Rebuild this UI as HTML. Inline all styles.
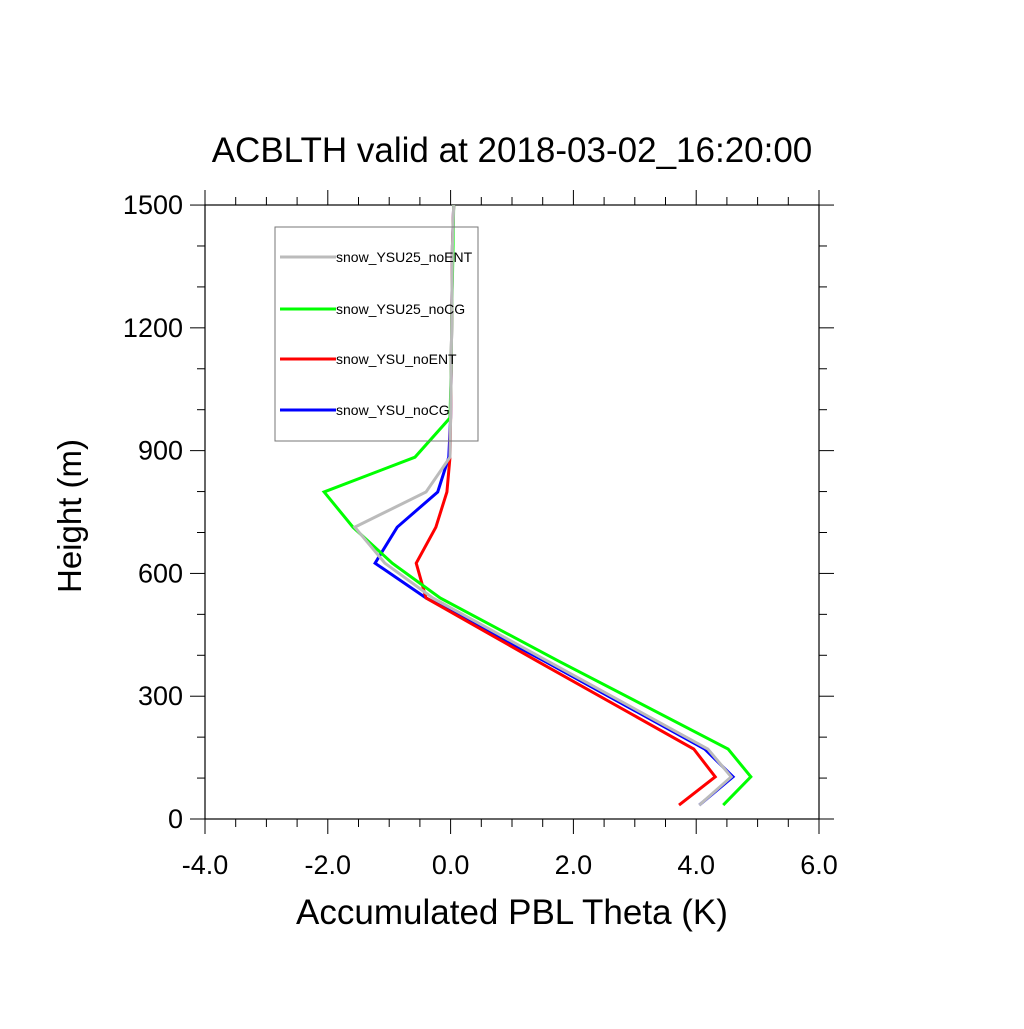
<!DOCTYPE html>
<html><head><meta charset="utf-8"><style>
body{margin:0;background:#fff}
svg{font-family:"Liberation Sans",sans-serif}
</style></head><body>
<svg id="c" width="1024" height="1024">
<text x="512" y="162" text-anchor="middle" font-size="35">ACBLTH valid at 2018-03-02_16:20:00</text>
<text x="512" y="924" text-anchor="middle" font-size="35">Accumulated PBL Theta (K)</text>
<text transform="translate(81,516) rotate(-90)" text-anchor="middle" font-size="33">Height (m)</text>
<g id="ax"></g><g id="ser"></g><g id="leg"></g>
</svg>
<script>
const heights=[34,103,171,385,540,625,713,799,884,980,1100,1250,1400,1500];
const noEnt25=[4.05,4.57,4.19,1.59,-0.29,-1.07,-1.56,-0.40,-0.01,0.0,0.01,0.02,0.03,0.05];
const noCG25=[4.44,4.89,4.52,1.77,-0.17,-0.95,-1.59,-2.06,-0.58,-0.01,0.01,0.02,0.04,0.05];
const noEnt=[3.72,4.31,3.96,1.42,-0.40,-0.56,-0.24,-0.06,-0.01,0.0,0.01,0.02,0.03,0.05];
const noCG=[4.05,4.60,4.14,1.54,-0.40,-1.23,-0.87,-0.21,-0.03,0.0,0.01,0.02,0.03,0.05];
const seriesNames=["snow_YSU25_noENT","snow_YSU25_noCG","snow_YSU_noENT","snow_YSU_noCG"];
const seriesColors=["#bbbbbb","#00ff00","#ff0000","#0000ff"];
const xTicks=["-4.0","-2.0","0.0","2.0","4.0","6.0"];
const yTicks=["0","300","600","900","1200","1500"];
const NS="http://www.w3.org/2000/svg";
const X=v=>205+(v+4)*61.4, Y=v=>819-v*0.4093;
function mk(t,a,p){const e=document.createElementNS(NS,t);for(const k in a)e.setAttribute(k,a[k]);p.appendChild(e);return e;}
const ax=document.getElementById('ax');
const fr=mk('rect',{x:205,y:205,width:614,height:614,fill:'none',stroke:'#000','stroke-width':1.2},ax);


for(let v=-4;v<=6.001;v+=0.5){const x=X(v),maj=Math.abs(v-Math.round(v/2)*2)<1e-6;const L=maj?15:8;
mk('line',{x1:x,x2:x,y1:819,y2:819+L,stroke:'#000'},ax);mk('line',{x1:x,x2:x,y1:205,y2:205-L,stroke:'#000'},ax);}
for(let v=0;v<=1500;v+=100){const y=Y(v),maj=v%300===0;const L=maj?15:8;
mk('line',{x1:205,x2:205-L,y1:y,y2:y,stroke:'#000'},ax);mk('line',{x1:819,x2:819+L,y1:y,y2:y,stroke:'#000'},ax);}
xTicks.forEach(t=>{const e=mk('text',{x:X(parseFloat(t)),y:874,'text-anchor':'middle','font-size':27},ax);e.textContent=t;

});
yTicks.forEach(t=>{const e=mk('text',{x:183,y:Y(+t)+9,'text-anchor':'end','font-size':27},ax);e.textContent=t;

});
const ser=document.getElementById('ser');
const all=[noEnt25,noCG25,noEnt,noCG];
[3,2,1,0].forEach(i=>{const d=all[i];const pl=mk('polyline',{points:d.map((v,j)=>X(v)+','+Y(heights[j])).join(' '),fill:'none',stroke:seriesColors[i],'stroke-width':3,'stroke-linejoin':'miter'},ser);

});
const leg=document.getElementById('leg');
const lb=mk('rect',{x:275,y:227,width:203,height:214,fill:'none',stroke:'#777','stroke-width':1},leg);


const ly=[257,309,359,410];
seriesNames.forEach((n,i)=>{mk('line',{x1:280,x2:336,y1:ly[i],y2:ly[i],stroke:seriesColors[i],'stroke-width':3},leg);
const t=mk('text',{x:336,y:ly[i]+5,'font-size':14},leg);t.textContent=n;

});
</script>
</body></html>
